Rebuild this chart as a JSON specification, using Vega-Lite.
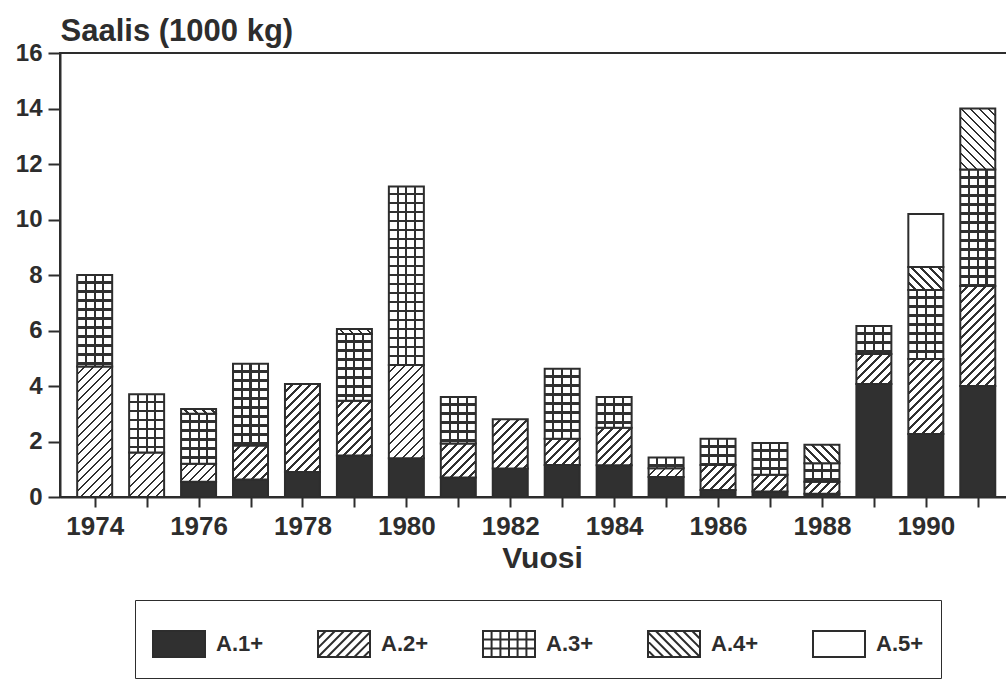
{
  "$schema": "https://vega.github.io/schema/vega-lite/v6.json",
  "width": 948,
  "height": 444,
  "autosize": {"type": "none"},
  "padding": {"left": 60, "top": 53, "right": 0, "bottom": 184},
  "background": "white",
  "config": {
    "view": {"stroke": "#2d2d2d", "strokeWidth": 2},
    "font": "Liberation Sans"
  },
  "params": [
    {
      "name": "hs",
      "value": [
        {"offset": 0, "color": "#ffffff"}, {"offset": 0.035, "color": "#ffffff"}, {"offset": 0.035, "color": "#303030"}, {"offset": 0.05, "color": "#303030"},
        {"offset": 0.05, "color": "#ffffff"}, {"offset": 0.085, "color": "#ffffff"}, {"offset": 0.085, "color": "#303030"}, {"offset": 0.1, "color": "#303030"},
        {"offset": 0.1, "color": "#ffffff"}, {"offset": 0.135, "color": "#ffffff"}, {"offset": 0.135, "color": "#303030"}, {"offset": 0.15, "color": "#303030"},
        {"offset": 0.15, "color": "#ffffff"}, {"offset": 0.185, "color": "#ffffff"}, {"offset": 0.185, "color": "#303030"}, {"offset": 0.2, "color": "#303030"},
        {"offset": 0.2, "color": "#ffffff"}, {"offset": 0.235, "color": "#ffffff"}, {"offset": 0.235, "color": "#303030"}, {"offset": 0.25, "color": "#303030"},
        {"offset": 0.25, "color": "#ffffff"}, {"offset": 0.285, "color": "#ffffff"}, {"offset": 0.285, "color": "#303030"}, {"offset": 0.3, "color": "#303030"},
        {"offset": 0.3, "color": "#ffffff"}, {"offset": 0.335, "color": "#ffffff"}, {"offset": 0.335, "color": "#303030"}, {"offset": 0.35, "color": "#303030"},
        {"offset": 0.35, "color": "#ffffff"}, {"offset": 0.385, "color": "#ffffff"}, {"offset": 0.385, "color": "#303030"}, {"offset": 0.4, "color": "#303030"},
        {"offset": 0.4, "color": "#ffffff"}, {"offset": 0.435, "color": "#ffffff"}, {"offset": 0.435, "color": "#303030"}, {"offset": 0.45, "color": "#303030"},
        {"offset": 0.45, "color": "#ffffff"}, {"offset": 0.485, "color": "#ffffff"}, {"offset": 0.485, "color": "#303030"}, {"offset": 0.5, "color": "#303030"},
        {"offset": 0.5, "color": "#ffffff"}, {"offset": 0.535, "color": "#ffffff"}, {"offset": 0.535, "color": "#303030"}, {"offset": 0.55, "color": "#303030"},
        {"offset": 0.55, "color": "#ffffff"}, {"offset": 0.585, "color": "#ffffff"}, {"offset": 0.585, "color": "#303030"}, {"offset": 0.6, "color": "#303030"},
        {"offset": 0.6, "color": "#ffffff"}, {"offset": 0.635, "color": "#ffffff"}, {"offset": 0.635, "color": "#303030"}, {"offset": 0.65, "color": "#303030"},
        {"offset": 0.65, "color": "#ffffff"}, {"offset": 0.685, "color": "#ffffff"}, {"offset": 0.685, "color": "#303030"}, {"offset": 0.7, "color": "#303030"},
        {"offset": 0.7, "color": "#ffffff"}, {"offset": 0.735, "color": "#ffffff"}, {"offset": 0.735, "color": "#303030"}, {"offset": 0.75, "color": "#303030"},
        {"offset": 0.75, "color": "#ffffff"}, {"offset": 0.785, "color": "#ffffff"}, {"offset": 0.785, "color": "#303030"}, {"offset": 0.8, "color": "#303030"},
        {"offset": 0.8, "color": "#ffffff"}, {"offset": 0.835, "color": "#ffffff"}, {"offset": 0.835, "color": "#303030"}, {"offset": 0.85, "color": "#303030"},
        {"offset": 0.85, "color": "#ffffff"}, {"offset": 0.885, "color": "#ffffff"}, {"offset": 0.885, "color": "#303030"}, {"offset": 0.9, "color": "#303030"},
        {"offset": 0.9, "color": "#ffffff"}, {"offset": 0.935, "color": "#ffffff"}, {"offset": 0.935, "color": "#303030"}, {"offset": 0.95, "color": "#303030"},
        {"offset": 0.95, "color": "#ffffff"}, {"offset": 0.985, "color": "#ffffff"}, {"offset": 0.985, "color": "#303030"}, {"offset": 1, "color": "#303030"}
      ]
    }
  ],
  "data": {
    "values": [
      {"year": 1974, "cat": "A.2+", "v": 4.7},
      {"year": 1974, "cat": "A.3+", "v": 3.3},
      {"year": 1975, "cat": "A.2+", "v": 1.6},
      {"year": 1975, "cat": "A.3+", "v": 2.1},
      {"year": 1976, "cat": "A.1+", "v": 0.55},
      {"year": 1976, "cat": "A.2+", "v": 0.65},
      {"year": 1976, "cat": "A.3+", "v": 1.8},
      {"year": 1976, "cat": "A.4+", "v": 0.17},
      {"year": 1977, "cat": "A.1+", "v": 0.63},
      {"year": 1977, "cat": "A.2+", "v": 1.23},
      {"year": 1977, "cat": "A.3+", "v": 2.94},
      {"year": 1978, "cat": "A.1+", "v": 0.9},
      {"year": 1978, "cat": "A.2+", "v": 3.17},
      {"year": 1979, "cat": "A.1+", "v": 1.5},
      {"year": 1979, "cat": "A.2+", "v": 1.97},
      {"year": 1979, "cat": "A.3+", "v": 2.4},
      {"year": 1979, "cat": "A.4+", "v": 0.18},
      {"year": 1980, "cat": "A.1+", "v": 1.4},
      {"year": 1980, "cat": "A.2+", "v": 3.36},
      {"year": 1980, "cat": "A.3+", "v": 6.43},
      {"year": 1981, "cat": "A.1+", "v": 0.7},
      {"year": 1981, "cat": "A.2+", "v": 1.23},
      {"year": 1981, "cat": "A.3+", "v": 1.67},
      {"year": 1982, "cat": "A.1+", "v": 1.03},
      {"year": 1982, "cat": "A.2+", "v": 1.77},
      {"year": 1983, "cat": "A.1+", "v": 1.15},
      {"year": 1983, "cat": "A.2+", "v": 0.95},
      {"year": 1983, "cat": "A.3+", "v": 2.52},
      {"year": 1984, "cat": "A.1+", "v": 1.14},
      {"year": 1984, "cat": "A.2+", "v": 1.36},
      {"year": 1984, "cat": "A.3+", "v": 1.1},
      {"year": 1985, "cat": "A.1+", "v": 0.72},
      {"year": 1985, "cat": "A.2+", "v": 0.32},
      {"year": 1985, "cat": "A.3+", "v": 0.38},
      {"year": 1986, "cat": "A.1+", "v": 0.25},
      {"year": 1986, "cat": "A.2+", "v": 0.9},
      {"year": 1986, "cat": "A.3+", "v": 0.95},
      {"year": 1987, "cat": "A.1+", "v": 0.2},
      {"year": 1987, "cat": "A.2+", "v": 0.6},
      {"year": 1987, "cat": "A.3+", "v": 1.15},
      {"year": 1988, "cat": "A.1+", "v": 0.12},
      {"year": 1988, "cat": "A.2+", "v": 0.43},
      {"year": 1988, "cat": "A.3+", "v": 0.67},
      {"year": 1988, "cat": "A.4+", "v": 0.66},
      {"year": 1989, "cat": "A.1+", "v": 4.07},
      {"year": 1989, "cat": "A.2+", "v": 1.08},
      {"year": 1989, "cat": "A.3+", "v": 1.01},
      {"year": 1990, "cat": "A.1+", "v": 2.27},
      {"year": 1990, "cat": "A.2+", "v": 2.7},
      {"year": 1990, "cat": "A.3+", "v": 2.49},
      {"year": 1990, "cat": "A.4+", "v": 0.83},
      {"year": 1990, "cat": "A.5+", "v": 1.91},
      {"year": 1991, "cat": "A.1+", "v": 4.0},
      {"year": 1991, "cat": "A.2+", "v": 3.6},
      {"year": 1991, "cat": "A.3+", "v": 4.2},
      {"year": 1991, "cat": "A.4+", "v": 2.2}
    ]
  },
  "transform": [
    {"stack": "v", "groupby": ["year"], "sort": [{"field": "cat", "order": "ascending"}], "as": ["y0", "y1"]},
    {
      "calculate": "datum.cat === 'A.1+' ? '#303030' : datum.cat === 'A.5+' ? '#ffffff' : datum.cat === 'A.2+' ? {'gradient': 'linear', 'x1': 0, 'y1': 0, 'x2': 6300 / (1225 + pow(datum.v * 27.75, 2)), 'y2': 180 * datum.v * 27.75 / (1225 + pow(datum.v * 27.75, 2)), 'stops': hs} : datum.cat === 'A.4+' ? {'gradient': 'linear', 'x1': 0, 'y1': 1, 'x2': 6300 / (1225 + pow(datum.v * 27.75, 2)), 'y2': 1 - 180 * datum.v * 27.75 / (1225 + pow(datum.v * 27.75, 2)), 'stops': hs} : {'gradient': 'linear', 'x1': 0, 'y1': 0, 'x2': 0, 'y2': max(1, 180 / (datum.v * 27.75)), 'stops': hs}",
      "as": "g"
    }
  ],
  "encoding": {
    "x": {
      "field": "year",
      "type": "quantitative",
      "scale": {"domain": [1973.4286, 1991.4857], "nice": false, "zero": false},
      "axis": {
        "values": [1974, 1975, 1976, 1977, 1978, 1979, 1980, 1981, 1982, 1983, 1984, 1985, 1986, 1987, 1988, 1989, 1990, 1991],
        "format": "d",
        "labelExpr": "datum.value % 2 === 0 ? datum.label : ''",
        "labelFont": "Liberation Sans",
        "labelFontSize": 26,
        "labelFontWeight": "bold",
        "labelColor": "#2d2d2d",
        "labelBaseline": "alphabetic",
        "labelPadding": 27,
        "labelFlush": false,
        "labelOverlap": false,
        "tickSize": 10,
        "tickWidth": 2,
        "tickColor": "#2d2d2d",
        "domainWidth": 2,
        "domainColor": "#2d2d2d",
        "grid": false,
        "title": "Vuosi",
        "titleFont": "Liberation Sans",
        "titleFontSize": 30,
        "titleFontWeight": "bold",
        "titleColor": "#2d2d2d",
        "titleX": 482,
        "titleY": 70,
        "titleAlign": "center",
        "titleBaseline": "alphabetic"
      }
    },
    "y": {
      "field": "y1",
      "type": "quantitative",
      "scale": {"domain": [0, 16], "nice": false, "zero": true},
      "axis": {
        "values": [0, 2, 4, 6, 8, 10, 12, 14, 16],
        "format": "d",
        "labelFont": "Liberation Sans",
        "labelFontSize": 24,
        "labelFontWeight": "bold",
        "labelColor": "#2d2d2d",
        "labelPadding": 6,
        "tickSize": 12,
        "tickWidth": 2,
        "tickColor": "#2d2d2d",
        "domainWidth": 2,
        "domainColor": "#2d2d2d",
        "grid": false,
        "title": "Saalis (1000 kg)",
        "titleFont": "Liberation Sans",
        "titleFontSize": 31,
        "titleFontWeight": "bold",
        "titleColor": "#2d2d2d",
        "titleAngle": 0,
        "titleAlign": "left",
        "titleBaseline": "alphabetic",
        "titleX": 0,
        "titleY": -13
      }
    },
    "y2": {"field": "y0"}
  },
  "layer": [
    {
      "mark": {"type": "bar", "width": 35, "strokeWidth": 2, "stroke": "#2d2d2d", "opacity": 1, "fillOpacity": 1},
      "encoding": {
        "fill": {"field": "g", "type": "nominal", "scale": null, "legend": null}
      }
    },
    {
      "transform": [{"filter": "datum.cat === 'A.3+'"}],
      "mark": {
        "type": "bar",
        "width": 35,
        "strokeWidth": 0,
        "fill": {
          "gradient": "linear",
          "x1": 0, "y1": 0, "x2": 1, "y2": 0,
          "stops": [
            {"offset": 0, "color": "rgba(0,0,0,0)"},
            {"offset": 0.22, "color": "rgba(0,0,0,0)"},
            {"offset": 0.22, "color": "#303030"},
            {"offset": 0.28, "color": "#303030"},
            {"offset": 0.28, "color": "rgba(0,0,0,0)"},
            {"offset": 0.47, "color": "rgba(0,0,0,0)"},
            {"offset": 0.47, "color": "#303030"},
            {"offset": 0.53, "color": "#303030"},
            {"offset": 0.53, "color": "rgba(0,0,0,0)"},
            {"offset": 0.72, "color": "rgba(0,0,0,0)"},
            {"offset": 0.72, "color": "#303030"},
            {"offset": 0.78, "color": "#303030"},
            {"offset": 0.78, "color": "rgba(0,0,0,0)"},
            {"offset": 1, "color": "rgba(0,0,0,0)"}
          ]
        }
      }
    },
    {
      "mark": {"type": "point", "filled": true, "size": 0, "opacity": 1, "strokeWidth": 2},
      "encoding": {
        "color": {
          "field": "cat",
          "type": "nominal",
          "scale": {"domain": ["A.1+", "A.2+", "A.3+", "A.4+", "A.5+"], "range": ["#303030", "#ffffff", "#ffffff", "#ffffff", "#ffffff"]},
          "legend": {
            "orient": "none",
            "legendX": 75,
            "legendY": 547,
            "direction": "horizontal",
            "title": null,
            "padding": 17,
            "columnPadding": 50,
            "labelOffset": 10,
            "labelFont": "Liberation Sans",
            "labelFontSize": 22,
            "labelFontWeight": "bold",
            "labelColor": "#2d2d2d",
            "strokeColor": "#2d2d2d",
            "symbolSize": 2704,
            "symbolStrokeWidth": 2,
            "symbolOpacity": 1
          }
        },
        "stroke": {
          "field": "cat",
          "type": "nominal",
          "scale": {"domain": ["A.1+", "A.2+", "A.3+", "A.4+", "A.5+"], "range": ["#2d2d2d", "#2d2d2d", "#2d2d2d", "#2d2d2d", "#2d2d2d"]},
          "legend": {
            "orient": "none",
            "legendX": 75,
            "legendY": 547,
            "direction": "horizontal",
            "title": null,
            "padding": 17,
            "columnPadding": 50,
            "labelOffset": 10,
            "labelFont": "Liberation Sans",
            "labelFontSize": 22,
            "labelFontWeight": "bold",
            "labelColor": "#2d2d2d",
            "strokeColor": "#2d2d2d",
            "symbolSize": 2704,
            "symbolStrokeWidth": 2,
            "symbolOpacity": 1
          }
        },
        "shape": {
          "field": "cat",
          "type": "nominal",
          "scale": {
            "domain": ["A.1+", "A.2+", "A.3+", "A.4+", "A.5+"],
            "range": [
              "M-1,-0.5H1V0.5H-1Z",
              "M-1,-0.5H1V0.5H-1Z M-1,-0.2L-0.7,-0.5 M-1,0.15L-0.35,-0.5 M-1,0.5L0,-0.5 M-0.65,0.5L0.35,-0.5 M-0.3,0.5L0.7,-0.5 M0.05,0.5L1,-0.45 M0.4,0.5L1,-0.1 M0.75,0.5L1,0.25",
              "M-1,-0.5H1V0.5H-1Z M-0.67,-0.5V0.5 M-0.33,-0.5V0.5 M0,-0.5V0.5 M0.33,-0.5V0.5 M0.67,-0.5V0.5 M-1,-0.17H1 M-1,0.17H1",
              "M-1,-0.5H1V0.5H-1Z M1,-0.2L0.7,-0.5 M1,0.15L0.35,-0.5 M1,0.5L0,-0.5 M0.65,0.5L-0.35,-0.5 M0.3,0.5L-0.7,-0.5 M-0.05,0.5L-1,-0.45 M-0.4,0.5L-1,-0.1 M-0.75,0.5L-1,0.25",
              "M-1,-0.5H1V0.5H-1Z"
            ]
          },
          "legend": {
            "orient": "none",
            "legendX": 75,
            "legendY": 547,
            "direction": "horizontal",
            "title": null,
            "padding": 17,
            "columnPadding": 50,
            "labelOffset": 10,
            "labelFont": "Liberation Sans",
            "labelFontSize": 22,
            "labelFontWeight": "bold",
            "labelColor": "#2d2d2d",
            "strokeColor": "#2d2d2d",
            "symbolSize": 2704,
            "symbolStrokeWidth": 2,
            "symbolOpacity": 1
          }
        }
      }
    }
  ]
}
